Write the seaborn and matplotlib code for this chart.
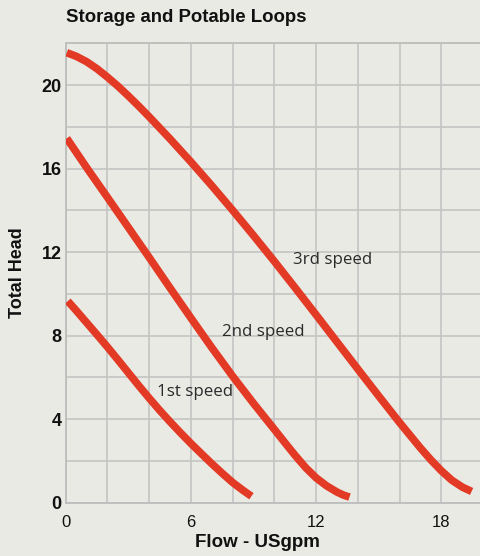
import pandas as pd
import matplotlib
matplotlib.use("Agg")
import matplotlib.pyplot as plt
from matplotlib.ticker import MultipleLocator
import seaborn as sns

# curves (flow in USgpm, head)
flow_1st = [0.1, 0.5, 1, 1.5, 2, 2.5, 3, 3.5, 4, 4.5, 5, 5.5, 6, 6.5, 7, 7.5, 8, 8.5, 8.9]
head_1st = [9.65, 9.2, 8.62, 8.04, 7.45, 6.84, 6.22, 5.6, 5.0, 4.42, 3.87, 3.34, 2.83, 2.34,
            1.86, 1.4, 0.96, 0.58, 0.3]

flow_2nd = [0.05, 1, 2, 3, 4, 5, 6, 7, 8, 9, 10, 10.5, 11, 11.5, 12, 12.5, 13, 13.3, 13.6]
head_2nd = [17.45, 16.05, 14.62, 13.18, 11.74, 10.28, 8.84, 7.42, 6.05, 4.75, 3.5, 2.87, 2.25,
            1.67, 1.18, 0.8, 0.5, 0.36, 0.26]

flow_3rd = [0.05, 0.5, 1, 1.5, 2, 2.5, 3, 3.5, 4, 5, 6, 7, 8, 9, 10, 11, 12, 13, 14, 15,
            16, 17, 17.5, 18, 18.5, 19, 19.45]
head_3rd = [21.55, 21.38, 21.12, 20.78, 20.38, 19.95, 19.48, 18.99, 18.48, 17.42, 16.32,
            15.18, 14.0, 12.79, 11.55, 10.28, 8.99, 7.69, 6.39, 5.1, 3.83, 2.61, 2.04,
            1.52, 1.07, 0.74, 0.53]

speed_names = ["1st speed", "2nd speed", "3rd speed"]
x_ticks = [0, 6, 12, 18]
y_ticks = [0, 4, 8, 12, 16, 20]

BG = "#eaeae5"
GRID = "#c4c4c4"
RED = "#e23a25"

df = pd.concat([
    pd.DataFrame({"Flow": flow_1st, "Head": head_1st, "Speed": speed_names[0]}),
    pd.DataFrame({"Flow": flow_2nd, "Head": head_2nd, "Speed": speed_names[1]}),
    pd.DataFrame({"Flow": flow_3rd, "Head": head_3rd, "Speed": speed_names[2]}),
])

sns.set_theme(style="white")
plt.rcParams["font.family"] = ["Liberation Sans", "DejaVu Sans"]

fig = plt.figure(figsize=(4.81, 5.56), dpi=100, facecolor=BG)
ax = fig.add_axes([0.1366, 0.0962, 0.8634, 0.8259])
ax.set_facecolor(BG)

sns.lineplot(data=df, x="Flow", y="Head", hue="Speed", units="Speed", estimator=None,
             palette={s: RED for s in speed_names}, legend=False, linewidth=5.5,
             solid_capstyle="butt", solid_joinstyle="round", ax=ax, zorder=3)

ax.set_xlim(0, 19.9)
ax.set_ylim(0, 22)
ax.xaxis.set_major_locator(MultipleLocator(6))
ax.yaxis.set_major_locator(MultipleLocator(4))
ax.xaxis.set_minor_locator(MultipleLocator(2))
ax.yaxis.set_minor_locator(MultipleLocator(2))
ax.set_xticks(x_ticks)
ax.set_yticks(y_ticks)
ax.grid(which="both", color=GRID, linewidth=1.2, zorder=0)
ax.set_axisbelow(True)
ax.tick_params(which="both", length=0)
ax.tick_params(axis="y", pad=3, labelsize=13)
ax.tick_params(axis="x", pad=9, labelsize=12)
for lbl in ax.get_yticklabels():
    lbl.set_fontweight("bold")
    lbl.set_color("#111111")
for lbl in ax.get_xticklabels():
    lbl.set_color("#111111")

for side in ["left", "top", "bottom"]:
    ax.spines[side].set_color("#bdbdbd")
    ax.spines[side].set_linewidth(1.3)
ax.spines["right"].set_visible(False)

ax.set_xlabel("Flow - USgpm", fontsize=13.5, fontweight="bold", color="#111111", va="center")
ax.xaxis.set_label_coords(0.462, -0.088)
ax.set_ylabel("Total Head", fontsize=13, fontweight="bold", color="#111111", va="center")
ax.yaxis.set_label_coords(-0.115, 0.5)

label_pos = {"1st speed": (4.39, 5.31), "2nd speed": (7.47, 8.18), "3rd speed": (10.88, 11.62)}
for name, (lx, ly) in label_pos.items():
    ax.text(lx, ly, name, fontsize=12.2, color="#2a2a2a", ha="left", va="center",
            family=["Open Sans", "DejaVu Sans"], zorder=4)

fig.text(0.137, 0.9685, "Storage and Potable Loops", fontsize=13.4, fontweight="bold",
         color="#111111", ha="left", va="center")

fig.savefig("out.png", dpi=100, facecolor=BG)
